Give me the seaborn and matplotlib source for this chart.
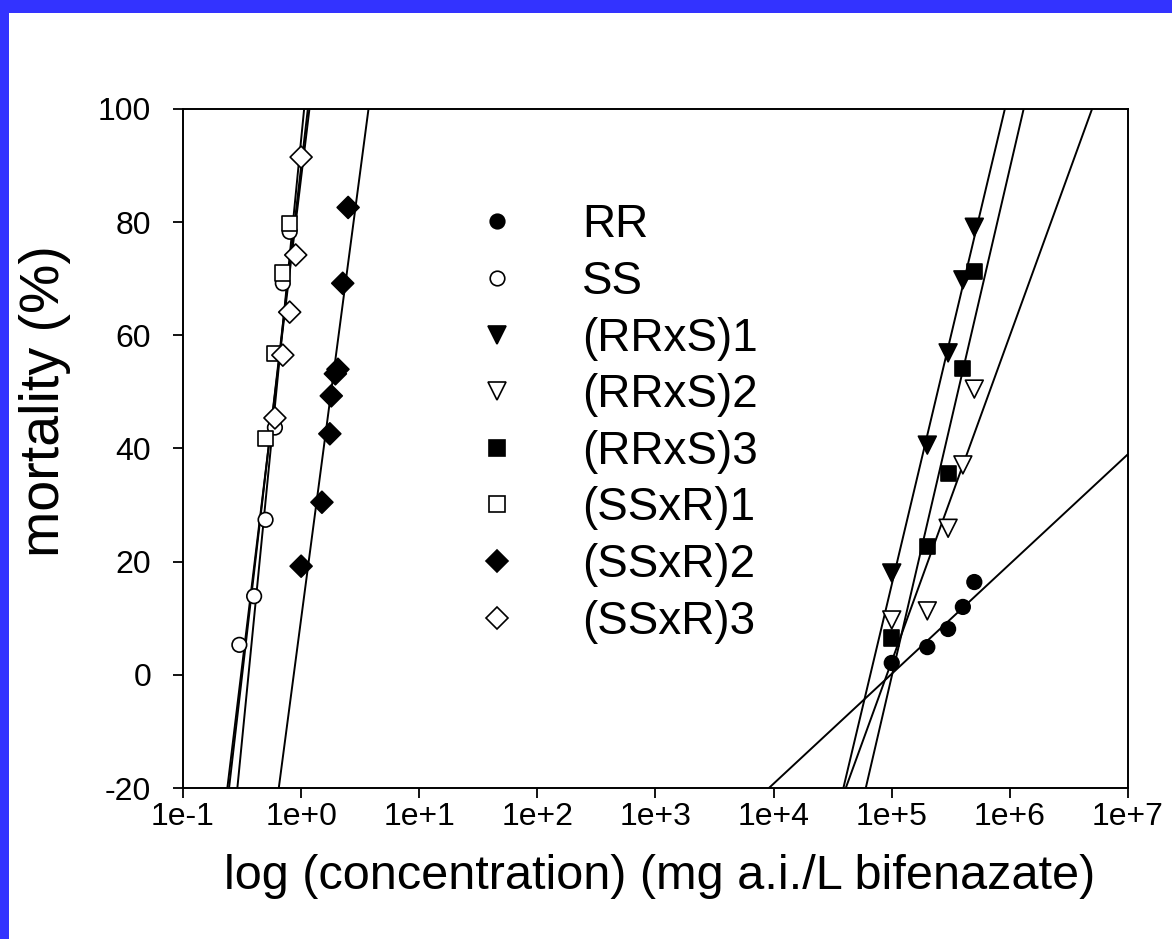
import numpy as np
import pandas as pd
import matplotlib
matplotlib.use("Agg")
import matplotlib.pyplot as plt
import seaborn as sns
from matplotlib.patches import Rectangle

# mortality (%)
conc_ss = [0.3, 0.4, 0.5, 0.6, 0.7, 0.8]
mort_ss = [5.3, 13.9, 27.4, 43.7, 69.2, 78.3]
conc_ssxr1 = [0.5, 0.6, 0.7, 0.8]
mort_ssxr1 = [41.8, 56.8, 71.0, 79.8]
conc_ssxr2 = [1.0, 1.5, 1.75, 1.8, 1.95, 2.05, 2.25, 2.5]
mort_ssxr2 = [19.2, 30.5, 42.6, 49.3, 53.2, 54.0, 69.2, 82.6]
conc_ssxr3 = [0.6, 0.7, 0.8, 0.9, 1.0]
mort_ssxr3 = [45.4, 56.5, 64.1, 74.2, 91.5]
conc_rr_group = [1e5, 2e5, 3e5, 4e5, 5e5]
mort_rr = [2.1, 4.9, 8.1, 12.0, 16.4]
mort_rrxs1 = [18.0, 40.6, 56.9, 69.8, 79.1]
mort_rrxs2 = [9.7, 11.3, 25.9, 37.1, 50.5]
mort_rrxs3 = [6.5, 22.7, 35.6, 54.2, 71.3]

# regression lines: mortality = a + b * log10(conc)
fit_a = {"RR": -96.87, "SS": 87.86, "(RRxS)1": -423.0, "(RRxS)2": -285.4,
         "(RRxS)3": -449.2, "(SSxR)1": 89.78, "(SSxR)2": 9.89, "(SSxR)3": 94.61}
fit_b = {"RR": 19.41, "SS": 172.7, "(RRxS)1": 87.79, "(RRxS)2": 57.56,
         "(RRxS)3": 89.79, "(SSxR)1": 179.9, "(SSxR)2": 158.0, "(SSxR)3": 212.3}

groups = ["RR", "SS", "(RRxS)1", "(RRxS)2", "(RRxS)3", "(SSxR)1", "(SSxR)2", "(SSxR)3"]
xtick_labels = ["1e-1", "1e+0", "1e+1", "1e+2", "1e+3", "1e+4", "1e+5", "1e+6", "1e+7"]
yticks = [-20, 0, 20, 40, 60, 80, 100]

series = {
    "RR": (conc_rr_group, mort_rr),
    "SS": (conc_ss, mort_ss),
    "(RRxS)1": (conc_rr_group, mort_rrxs1),
    "(RRxS)2": (conc_rr_group, mort_rrxs2),
    "(RRxS)3": (conc_rr_group, mort_rrxs3),
    "(SSxR)1": (conc_ssxr1, mort_ssxr1),
    "(SSxR)2": (conc_ssxr2, mort_ssxr2),
    "(SSxR)3": (conc_ssxr3, mort_ssxr3),
}
df = pd.concat([pd.DataFrame({"conc": c, "mort": m, "group": g})
                for g, (c, m) in series.items()], ignore_index=True)

fill = {"RR": "black", "SS": "white", "(RRxS)1": "black", "(RRxS)2": "white",
        "(RRxS)3": "black", "(SSxR)1": "white", "(SSxR)2": "black", "(SSxR)3": "white"}
marks = {"RR": "o", "SS": "o", "(RRxS)1": "v", "(RRxS)2": "v",
         "(RRxS)3": "s", "(SSxR)1": "s", "(SSxR)2": "D", "(SSxR)3": "D"}
msize = {"RR": 110, "SS": 110, "(RRxS)1": 165, "(RRxS)2": 165,
         "(RRxS)3": 120, "(SSxR)1": 120, "(SSxR)2": 125, "(SSxR)3": 125}

sns.set_theme(style="white")
plt.rcParams["font.family"] = ["Liberation Sans", "DejaVu Sans"]
plt.rcParams["axes.unicode_minus"] = False
for k in ["text.color", "axes.labelcolor", "xtick.color", "ytick.color"]:
    plt.rcParams[k] = "black"

fig = plt.figure(figsize=(11.72, 9.39), dpi=100)
fig.patch.set_facecolor("#3333ff")
fig.patches.append(Rectangle((9 / 1172, 0), 1, 1 - 13 / 939, transform=fig.transFigure,
                             facecolor="white", edgecolor="none", zorder=-10))
ax = fig.add_axes([183 / 1172, 1 - 788 / 939, 945 / 1172, 679 / 939])
ax.set_facecolor("white")

xline = np.array([1e-1, 1e7])
for g in groups:
    sns.lineplot(x=xline, y=fit_a[g] + fit_b[g] * np.log10(xline), ax=ax,
                 color="black", lw=1.4, zorder=2)

sns.scatterplot(data=df, x="conc", y="mort", hue="group", style="group", size="group",
                hue_order=groups, palette=fill, markers=marks, sizes=msize,
                edgecolor="black", linewidth=1.2, ax=ax, zorder=3)

ax.set_xscale("log")
ax.set_xlim(1e-1, 1e7)
ax.set_ylim(-20, 100)
ax.set_xticks(10.0 ** np.arange(-1, 8))
ax.set_xticklabels(xtick_labels)
ax.minorticks_off()
ax.set_yticks(yticks)
ax.tick_params(axis="both", direction="out", length=7, width=1.3, color="black",
               labelsize=23, bottom=True, left=True)
ax.tick_params(axis="x", pad=3)
ax.tick_params(axis="y", pad=16)
for s in ax.spines.values():
    s.set_color("black")
    s.set_linewidth(1.4)

ax.set_xlabel("log (concentration) (mg a.i./L bifenazate)", fontsize=35)
ax.set_ylabel("mortality (%)", fontsize=40)
ax.xaxis.set_label_coords(0.504, -0.097)
ax.yaxis.set_label_coords(-0.118, 0.57)

handles, labels = ax.get_legend_handles_labels()
ax.legend(handles, labels, loc="upper left", bbox_to_anchor=(0.2887, 0.888),
          frameon=False, fontsize=33, handlelength=1.0, handletextpad=1.35,
          labelspacing=0.275, borderaxespad=0)

fig.savefig("out.png", dpi=100, facecolor=fig.get_facecolor())
